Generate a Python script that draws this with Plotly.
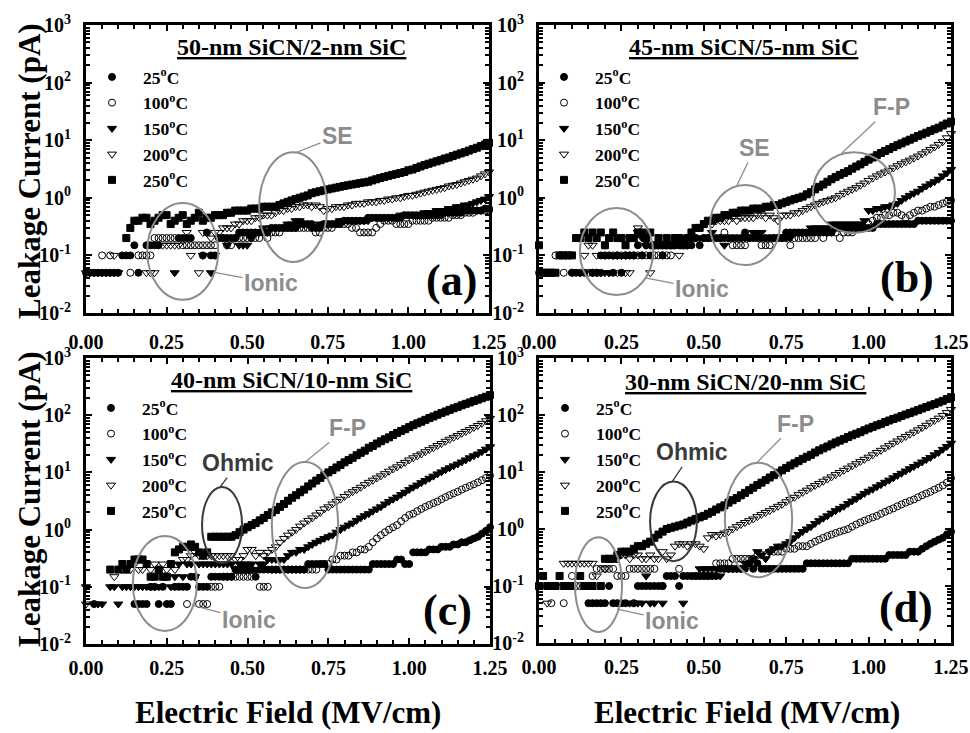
import plotly.graph_objects as go

N = None
# electric-field sweep (MV/cm), 0 to 1.25 in 0.0125 steps
FIELD = [round(0.0125 * i, 4) for i in range(101)]

TEMP_LABELS = ["25", "100", "150", "200", "250"]
PANEL_TITLES = ["50-nm SiCN/2-nm SiC", "45-nm SiCN/5-nm SiC",
                "40-nm SiCN/10-nm SiC", "30-nm SiCN/20-nm SiC"]
PANEL_TAGS = ["(a)", "(b)", "(c)", "(d)"]
X_TICKS = [0.0, 0.25, 0.5, 0.75, 1.0, 1.25]
X_TICK_TEXT = ["0.00", "0.25", "0.50", "0.75", "1.00", "1.25"]
Y_TICKS = [0.01, 0.1, 1, 10, 100, 1000]
Y_TICK_EXP = ["-2", "-1", "0", "1", "2", "3"]

# ---------------- (a) 50-nm SiCN / 2-nm SiC ----------------
A25 = [0.05,0.05,0.05,0.05,0.05,0.05,0.05,0.05,0.05,0.1,
       0.1,0.1,0.15,0.05,N,0.15,0.15,0.15,0.15,N,
       N,N,N,0.2,0.2,0.2,0.2,N,N,0.1,
       0.25,0.1,0.1,0.2,0.2,0.2,0.2,0.2,0.25,0.25,
       0.25,0.25,0.25,0.25,0.25,0.25,0.3,0.3,0.3,0.3,
       0.3,0.3,0.3,0.35,0.35,0.35,0.35,0.3,0.3,0.35,
       0.35,0.35,0.35,0.35,0.4,0.4,0.4,0.4,0.4,0.4,
       0.45,0.45,0.45,0.45,0.45,0.45,0.45,0.45,0.45,0.5,
       0.5,0.5,0.5,0.5,0.5,0.5,0.5,0.5,0.5,0.55,
       0.55,0.55,0.55,0.55,0.6,0.6,0.6,0.6,0.6,0.65,
       0.65]
A100 = [N,N,N,N,0.1,N,0.1,N,N,N,
        N,0.05,N,0.1,0.1,0.1,0.1,0.2,0.2,0.2,
        0.2,0.2,0.2,N,0.15,0.15,0.15,0.15,0.15,0.15,
        0.15,0.15,0.15,0.2,0.2,0.15,0.15,0.2,0.2,0.2,
        0.2,0.2,0.2,0.2,0.25,0.2,0.25,0.25,0.25,0.3,
        0.3,0.3,0.3,0.3,0.3,0.3,0.3,0.25,0.25,0.3,
        0.3,0.3,0.35,0.35,0.35,0.35,0.3,0.3,0.25,0.25,
        0.25,0.25,0.3,0.35,0.4,0.4,0.4,0.35,0.35,0.35,
        0.35,0.4,0.4,0.4,0.4,0.4,0.45,0.45,0.45,0.45,
        0.45,0.5,0.5,0.5,0.55,0.55,0.55,0.6,0.6,0.6,
        0.6]
A150 = [N,0.05,0.05,0.05,0.05,0.05,0.05,0.05,0.05,N,
        N,N,N,N,N,N,N,N,N,N,
        N,N,0.05,N,N,N,N,N,N,0.1,
        N,0.05,0.1,0.2,0.2,0.15,0.2,0.2,0.15,0.15,
        0.15,0.2,0.25,0.25,0.3,0.25,0.3,0.3,0.3,0.3,
        0.35,0.35,0.4,0.4,0.35,0.35,0.3,0.3,0.35,0.35,
        0.35,0.35,0.35,0.4,0.4,0.4,0.4,0.4,0.4,0.4,
        0.4,0.45,0.45,0.45,0.45,0.45,0.45,0.45,0.5,0.5,
        0.5,0.5,0.5,0.5,0.55,0.55,0.55,0.6,0.6,0.6,
        0.65,0.65,0.7,0.7,0.75,0.75,0.8,0.85,0.9,0.95,
        1.05]
A200 = [0.05,N,N,N,N,N,N,0.1,N,N,
        N,N,N,N,N,0.05,0.05,0.05,N,0.15,
        0.15,0.15,0.15,0.15,N,0.25,0.1,N,0.05,0.25,
        N,0.2,0.25,0.25,0.3,0.3,0.3,0.35,0.35,0.4,
        0.4,0.4,0.45,0.45,0.5,0.5,0.5,0.55,0.6,0.6,
        0.65,0.65,0.7,0.7,0.75,0.75,0.7,0.75,0.7,0.6,
        0.65,0.65,0.7,0.7,0.7,0.75,0.75,0.8,0.8,0.8,
        0.85,0.85,0.85,0.9,0.9,0.95,0.95,1.0,1.0,1.05,
        1.1,1.1,1.15,1.2,1.25,1.3,1.35,1.4,1.45,1.5,
        1.6,1.65,1.7,1.8,1.9,2.0,2.1,2.2,2.4,2.6,
        2.8]
A250 = [N,N,N,N,N,N,N,N,N,N,
        0.2,0.3,0.4,0.4,0.45,0.45,0.35,0.4,0.45,0.5,
        0.5,0.35,0.4,0.45,0.5,0.35,0.4,0.45,0.55,0.4,
        0.45,0.45,0.5,0.5,0.5,0.55,0.55,0.6,0.6,0.6,
        0.6,0.65,0.65,0.65,0.7,0.7,0.7,0.7,0.75,0.8,
        0.85,0.9,0.95,1.0,1.05,1.1,1.2,1.25,1.3,1.35,
        1.4,1.45,1.5,1.55,1.6,1.65,1.7,1.75,1.8,1.85,
        1.9,2.0,2.1,2.2,2.3,2.4,2.5,2.6,2.7,2.8,
        3.0,3.1,3.3,3.5,3.7,3.9,4.1,4.3,4.5,4.8,
        5.0,5.3,5.6,5.9,6.2,6.6,7.0,7.4,7.9,8.4,
        9.0]

# ---------------- (b) 45-nm SiCN / 5-nm SiC ----------------
B25 = [N,N,N,N,N,N,N,N,0.05,0.05,
       N,0.05,N,0.05,0.05,0.1,0.1,0.1,0.05,0.1,
       0.05,0.1,0.1,0.1,0.15,0.1,0.15,0.1,0.15,0.15,
       0.1,0.15,0.15,0.15,0.15,0.15,0.15,0.15,0.2,0.15,
       0.2,0.2,0.2,0.2,0.2,0.2,0.2,0.2,0.2,0.2,
       0.25,0.2,0.2,0.2,0.2,0.2,0.2,0.2,0.2,0.2,
       0.25,0.25,0.25,0.25,0.25,0.25,0.25,0.25,0.25,0.25,
       0.25,0.25,0.3,0.3,0.3,0.3,0.3,0.3,0.3,0.3,
       0.3,0.3,0.35,0.35,0.35,0.35,0.35,0.35,0.35,0.35,
       0.35,0.35,0.4,0.4,0.4,0.4,0.4,0.4,0.4,0.4,
       0.4]
B100 = [0.05,0.05,0.05,0.05,0.1,0.1,0.05,N,0.05,N,
        0.05,N,0.05,0.05,0.05,0.05,0.15,N,0.1,0.1,
        0.1,0.1,0.1,0.1,0.1,0.1,0.1,N,0.1,0.1,
        0.1,0.1,0.1,N,0.15,0.15,N,0.2,0.2,N,
        0.2,0.2,0.2,N,0.2,0.25,N,0.15,0.15,0.15,
        0.15,0.2,N,0.2,0.15,0.15,0.15,0.2,0.2,0.2,
        0.2,0.15,0.2,0.2,0.2,0.2,0.2,0.2,0.25,0.2,
        0.25,0.25,0.25,0.2,0.25,0.25,0.25,0.3,0.3,0.3,
        0.35,0.4,0.45,0.45,0.5,0.5,0.55,0.55,0.5,0.45,
        0.5,0.55,0.6,0.6,0.65,0.7,0.7,0.75,0.8,0.85,
        0.9]
B150 = [N,N,N,N,N,N,N,N,N,N,
        0.05,N,N,0.05,0.05,0.05,0.05,0.05,0.1,0.1,
        0.1,0.1,0.2,0.2,0.25,0.2,0.15,0.15,0.15,0.15,
        0.15,0.15,0.15,0.15,0.2,0.2,0.15,0.2,0.2,0.2,
        0.2,0.2,0.25,0.2,0.2,0.15,0.2,0.2,0.2,0.2,
        0.2,0.2,0.25,0.25,0.25,0.2,0.2,0.2,0.2,0.2,
        0.2,0.2,0.25,0.25,0.25,0.25,0.3,0.3,0.3,0.3,
        0.3,0.35,0.35,0.35,0.35,0.35,0.35,0.35,0.35,0.4,
        0.6,0.6,0.65,0.65,0.7,0.7,0.75,0.8,0.9,1.0,
        1.1,1.2,1.3,1.45,1.6,1.75,1.9,2.1,2.4,2.7,
        3.1]
B200 = [N,N,N,N,N,N,N,N,N,N,
        0.05,0.1,0.15,0.15,0.1,0.05,0.1,0.05,0.1,0.05,
        0.1,0.05,0.05,0.1,0.3,N,N,0.05,N,N,
        0.2,N,N,N,0.1,N,N,N,N,N,
        N,N,0.35,0.4,0.4,0.4,0.4,0.45,0.4,0.45,
        0.45,0.45,0.45,0.5,0.5,0.45,0.5,0.45,0.4,0.5,
        0.5,0.5,0.55,0.55,0.6,0.65,0.7,0.75,0.8,0.85,
        0.9,0.95,1.0,1.1,1.2,1.3,1.4,1.5,1.65,1.8,
        2.0,2.2,2.4,2.6,2.8,3.0,3.3,3.6,3.9,4.2,
        4.5,4.9,5.3,5.8,6.3,6.9,7.6,8.4,9.4,11.0,
        13.0]
B250 = [0.15,0.05,0.05,0.05,0.05,0.1,0.1,0.1,0.1,0.2,
        0.2,0.25,0.2,0.25,0.2,0.25,0.15,0.2,0.25,0.2,
        0.2,0.15,0.2,0.2,0.25,0.25,0.2,0.25,0.15,0.2,
        0.15,0.2,0.15,0.2,0.2,0.15,0.2,0.25,0.3,0.3,
        0.35,0.4,0.4,0.45,0.45,0.5,0.5,0.55,0.55,0.6,
        0.6,0.6,0.65,0.65,0.65,0.7,0.7,0.75,0.75,0.8,
        0.85,0.9,0.95,1.0,1.05,1.15,1.25,1.4,1.55,1.7,
        1.9,2.1,2.3,2.5,2.7,2.9,3.2,3.5,3.8,4.2,
        4.6,5.0,5.5,6.0,6.5,7.0,7.6,8.2,8.8,9.5,
        10.2,11.0,11.8,12.6,13.5,14.5,15.5,16.5,18.0,19.5,
        21.0]

# ---------------- (c) 40-nm SiCN / 10-nm SiC ----------------
C25 = [N,N,0.05,N,N,N,N,N,N,N,
       N,N,0.05,0.05,0.05,0.05,0.1,0.1,0.05,0.1,
       0.05,0.05,0.1,0.1,0.1,0.1,0.15,0.15,0.1,0.1,
       0.1,0.15,0.15,0.15,0.15,0.15,0.15,0.2,0.2,0.2,
       0.2,0.2,0.15,0.2,0.2,0.2,0.2,0.2,0.2,0.2,
       0.2,0.2,0.2,0.2,0.2,0.25,0.25,0.25,0.25,0.25,
       0.2,0.2,0.2,0.2,0.2,0.2,0.2,0.2,0.2,0.2,
       0.2,0.25,0.25,0.25,0.25,0.25,0.25,0.3,0.3,0.25,
       0.25,0.4,0.4,0.4,0.4,0.45,0.45,0.45,0.5,0.5,
       0.5,0.55,0.55,0.6,0.6,0.65,0.7,0.75,0.85,0.95,
       1.1]
C100 = [N,N,N,N,N,N,N,N,N,N,
        N,N,N,N,N,N,N,N,N,N,
        N,N,N,N,N,0.05,N,N,0.05,0.05,
        0.05,0.1,0.1,0.1,0.15,0.15,0.15,0.15,0.15,0.15,
        0.15,0.15,N,0.1,0.1,0.1,0.2,0.2,0.2,0.2,
        0.2,0.2,0.2,0.2,0.2,0.2,0.2,0.2,0.25,0.25,
        0.25,0.3,0.3,0.35,0.35,0.35,0.4,0.4,0.45,0.45,
        0.5,0.6,0.7,0.8,0.9,1.0,1.1,1.2,1.4,1.6,
        1.8,1.9,2.1,2.3,2.5,2.7,2.9,3.1,3.4,3.7,
        4.0,4.3,4.6,5.0,5.4,5.8,6.2,6.7,7.3,8.0,
        8.8]
C150 = [0.1,N,0.05,0.05,0.05,N,0.1,0.1,0.05,0.1,
        0.1,0.1,0.1,0.1,0.1,0.1,0.1,0.1,0.1,N,
        0.15,0.1,0.15,0.25,0.15,0.25,0.25,0.15,0.25,0.25,
        0.25,0.25,0.25,0.25,0.25,0.25,0.25,0.2,0.25,0.25,
        0.25,0.25,0.2,0.25,0.25,0.3,0.3,0.3,0.3,0.3,
        0.35,0.4,0.4,0.45,0.45,0.5,0.55,0.6,0.65,0.7,
        0.75,0.8,0.9,1.0,1.1,1.2,1.3,1.45,1.6,1.75,
        1.9,2.1,2.3,2.5,2.8,3.1,3.4,3.7,4.1,4.5,
        5.0,5.5,6.0,6.6,7.2,7.9,8.6,9.4,10.2,11.1,
        12.0,13.0,14.0,15.2,16.5,18.0,19.5,21.0,23.0,25.5,
        28.0]
C200 = [0.05,N,N,N,N,N,N,0.15,N,0.2,
        0.2,0.2,0.25,0.2,0.2,0.25,0.2,0.25,0.2,0.25,
        0.2,N,0.2,N,0.3,0.3,0.35,0.4,0.35,0.35,
        0.35,0.35,0.35,0.35,0.35,0.35,0.35,0.3,0.3,0.35,
        0.45,0.45,0.35,0.4,0.35,0.4,0.45,0.5,0.6,0.7,
        0.8,0.9,1.0,1.15,1.3,1.45,1.6,1.8,2.0,2.3,
        2.5,2.8,3.1,3.4,3.8,4.2,4.6,5.0,5.5,6.1,
        6.7,7.3,8.0,8.7,9.5,10.5,11.5,12.5,13.8,15.0,
        16.5,18.0,19.5,21.0,23.0,25.0,27.0,29.5,32.0,35.0,
        38.0,41.0,44.0,48.0,52.0,56.0,61.0,66.0,72.0,80.0,
        88.0]
C250 = [N,N,N,N,N,N,0.2,N,0.2,0.25,
        0.2,0.25,0.3,0.3,0.3,0.25,0.15,0.15,0.2,0.15,
        0.15,0.25,0.4,0.45,0.5,0.5,0.55,0.5,0.4,0.35,
        0.4,0.75,0.75,0.75,0.75,0.75,0.75,0.8,0.9,1.0,
        1.1,1.2,1.3,1.45,1.6,1.8,2.0,2.2,2.5,2.8,
        3.2,3.6,4.0,4.5,5.0,5.7,6.4,7.2,8.0,9.0,
        10.0,11.0,12.2,13.5,15.0,16.5,18.0,20.0,22.0,24.0,
        27.0,29.0,32.0,35.0,38.0,41.0,45.0,49.0,53.0,57.0,
        62.0,67.0,72.0,77.0,83.0,89.0,95.0,102.0,109.0,116.0,
        124.0,132.0,140.0,149.0,158.0,167.0,177.0,187.0,198.0,210.0,
        225.0]

# ---------------- (d) 30-nm SiCN / 20-nm SiC ----------------
D25 = [N,N,N,N,N,N,N,N,N,N,
       N,N,0.05,0.05,0.05,0.05,0.05,0.1,0.05,0.05,
       0.05,0.05,N,0.05,0.1,0.1,0.1,0.1,0.1,0.1,
       0.1,0.15,0.15,0.15,0.1,0.15,0.15,0.15,0.15,0.15,
       0.15,0.15,0.15,0.15,0.2,0.2,0.2,0.2,0.2,0.2,
       0.2,0.25,0.2,0.25,0.2,0.2,0.2,0.2,0.2,0.2,
       0.2,0.2,0.2,0.2,0.2,0.25,0.25,0.25,0.25,0.25,
       0.25,0.25,0.25,0.25,0.25,0.25,0.3,0.3,0.3,0.3,
       0.3,0.3,0.3,0.3,0.3,0.35,0.35,0.35,0.35,0.35,
       0.4,0.4,0.4,0.45,0.5,0.55,0.6,0.65,0.7,0.8,
       0.9]
D100 = [N,N,N,0.05,N,N,0.05,N,0.15,0.1,
        0.1,0.1,N,0.15,0.2,0.2,0.2,0.2,0.2,0.15,
        0.15,0.15,0.2,0.2,0.2,0.2,0.2,0.2,0.2,N,
        0.1,N,N,N,0.2,N,N,N,0.15,0.15,
        0.15,0.15,N,0.25,0.25,0.25,0.25,0.3,0.3,0.3,
        0.3,0.3,0.3,0.35,0.35,0.35,0.4,0.4,0.4,0.4,
        0.45,0.45,0.45,0.5,0.5,0.5,0.55,0.6,0.65,0.7,
        0.75,0.8,0.85,0.9,0.95,1.0,1.1,1.2,1.3,1.4,
        1.5,1.6,1.7,1.85,2.0,2.15,2.3,2.5,2.7,2.9,
        3.1,3.3,3.6,3.9,4.2,4.5,4.9,5.3,5.8,6.5,
        7.8]
D150 = [N,N,N,N,N,N,N,N,N,N,
        N,N,N,N,N,N,N,N,N,N,
        N,N,0.05,0.05,0.05,0.05,0.15,0.05,0.05,N,
        0.05,N,N,N,N,0.05,N,0.15,0.15,0.2,
        0.2,0.2,0.2,0.2,0.15,0.2,0.2,0.2,0.2,0.2,
        0.25,0.25,0.3,0.4,0.35,0.3,0.4,0.45,0.5,0.5,
        0.55,0.6,0.7,0.8,0.9,1.0,1.1,1.25,1.4,1.55,
        1.7,1.9,2.1,2.3,2.5,2.8,3.1,3.4,3.8,4.2,
        4.6,5.0,5.5,6.0,6.6,7.2,7.9,8.7,9.5,10.4,
        11.4,12.5,13.7,15.0,16.5,18.0,20.0,22.0,25.0,28.0,
        32.0]
D200 = [N,N,0.05,N,0.1,N,0.25,0.25,0.25,0.25,
        0.25,0.25,0.25,0.25,0.15,N,0.2,0.3,0.3,0.3,
        0.35,0.35,0.3,0.35,0.35,0.3,0.3,0.35,0.3,0.3,
        0.4,0.3,0.35,0.5,0.55,0.55,0.5,0.55,0.55,0.5,
        0.45,0.7,0.8,0.75,0.8,0.85,0.9,1.0,1.1,1.2,
        1.3,1.4,1.5,1.65,1.8,1.95,2.1,2.3,2.5,2.7,
        3.0,3.3,3.6,4.0,4.4,4.8,5.3,5.8,6.3,6.9,
        7.5,8.2,9.0,9.8,10.7,11.7,12.8,14.0,15.3,16.7,
        18.2,20.0,22.0,24.0,26.5,29.0,32.0,35.0,38.5,42.0,
        46.0,50.0,55.0,60.0,66.0,73.0,80.0,88.0,98.0,110.0,
        125.0]
D250 = [0.1,0.15,0.1,0.1,0.1,0.15,0.1,0.1,0.1,N,
        0.15,0.1,0.1,0.1,N,0.1,0.3,0.3,0.3,0.35,
        0.4,0.4,0.4,0.45,0.5,0.5,0.55,0.6,0.7,0.8,
        0.9,1.0,1.05,1.1,1.15,1.2,1.3,1.4,1.5,1.6,
        1.7,1.85,2.0,2.2,2.4,2.6,2.9,3.2,3.5,3.9,
        4.3,4.8,5.3,5.9,6.5,7.2,8.0,8.8,9.7,10.7,
        11.8,13.0,14.2,15.5,17.0,18.5,20.0,22.0,24.0,26.0,
        28.0,30.5,33.0,35.5,38.0,41.0,44.0,47.0,50.0,54.0,
        58.0,62.0,66.0,70.0,75.0,80.0,85.0,90.0,96.0,102.0,
        108.0,115.0,122.0,130.0,138.0,147.0,156.0,166.0,177.0,190.0,
        205.0]

SERIES = [[A25, A100, A150, A200, A250],
          [B25, B100, B150, B200, B250],
          [C25, C100, C150, C200, C250],
          [D25, D100, D150, D200, D250]]
for grp in SERIES:
    for s in grp:
        assert len(s) == len(FIELD), len(s)

# ----------------------------- styling -----------------------------
W, H = 970, 733
SERIF = "Liberation Serif"
SANS = "Liberation Sans"
GRAY = "#8c8c8c"
DARK = "#3a3a3a"
SYMBOLS = ["circle", "circle-open", "triangle-down", "triangle-down-open", "square"]
SIZES = [7, 7, 8, 8, 7]

def px(x):
    return x / W

def py(y):
    return 1 - y / H

# plot-area boxes in pixels (left, right, top, bottom)
BOXES = [(86, 489, 25, 313), (539, 951, 25, 313),
         (86, 490, 358, 644), (539, 951, 358, 643)]
LEGEND_POS = [(81, 59), (533, 59), (80, 390), (534, 390)]
XLABEL_STANDOFF = [9, 9, 4, 4]

# annotation ellipses: x range (MV/cm) and current range (pA)
ELLIPSES = [
    [(0.19, 0.41, 0.017, 0.81, GRAY), (0.537, 0.748, 0.077, 6.2, GRAY)],
    [(0.124, 0.346, 0.0205, 0.665, GRAY), (0.519, 0.731, 0.068, 1.67, GRAY),
     (0.831, 1.080, 0.245, 6.2, GRAY)],
    [(0.145, 0.343, 0.0169, 0.773, GRAY), (0.359, 0.483, 0.261, 5.56, DARK),
     (0.575, 0.780, 0.0953, 15.2, GRAY)],
    [(0.109, 0.252, 0.0156, 0.713, GRAY), (0.337, 0.479, 0.272, 6.79, DARK),
     (0.564, 0.768, 0.1426, 14.6, GRAY)],
]
# mechanism labels: text, leader tip (x, log10 pA), text centre (x, log10 pA)
LABELS = [
    [("Ionic", 0.394, -1.29, 0.574, -1.48, GRAY), ("SE", 0.648, 0.778, 0.78, 1.073, GRAY)],
    [("Ionic", 0.322, -1.392, 0.495, -1.583, GRAY), ("SE", 0.601, 0.222, 0.655, 0.865, GRAY),
     ("F-P", 0.919, 0.778, 1.068, 1.576, GRAY)],
    [("Ionic", 0.328, -1.32, 0.504, -1.58, GRAY), ("Ohmic", 0.415, 0.745, 0.47, 1.164, DARK),
     ("F-P", 0.678, 1.182, 0.808, 1.776, GRAY)],
    [("Ionic", 0.237, -1.406, 0.404, -1.615, GRAY), ("Ohmic", 0.404, 0.832, 0.464, 1.343, DARK),
     ("F-P", 0.661, 1.164, 0.777, 1.846, GRAY)],
]
TAG_POS = [(1.135, -1.44), (1.117, -1.375), (1.12, -1.42), (1.113, -1.38)]
TITLE_POS = [(291, 47), (743, 47), (291, 380), (745, 382)]

fig = go.Figure()
layout = dict(width=W, height=H, margin=dict(l=0, r=0, t=0, b=0, autoexpand=False),
              paper_bgcolor="white", plot_bgcolor="white", showlegend=True)
shapes, annotations = [], []

for k in range(4):
    sfx = "" if k == 0 else str(k + 1)
    xa, ya = "x" + sfx, "y" + sfx
    lg = "legend" + sfx
    l, r, t, b = BOXES[k]
    for j, vals in enumerate(SERIES[k]):
        fig.add_trace(go.Scatter(
            x=FIELD, y=vals, mode="markers", xaxis=xa, yaxis=ya, legend=lg,
            name="<b>%s<sup>o</sup>C</b>" % TEMP_LABELS[j], cliponaxis=False,
            marker=dict(symbol=SYMBOLS[j], size=SIZES[j], color="black",
                        line=dict(color="black", width=1))))
    layout["xaxis" + sfx] = dict(
        domain=[px(l), px(r)], anchor=ya, range=[0, 1.25], automargin=False,
        tickmode="array", tickvals=X_TICKS,
        ticktext=["<b>%s</b>" % s for s in X_TICK_TEXT],
        ticks="inside", ticklen=6, tickwidth=2, tickcolor="black",
        showline=True, linewidth=3, linecolor="black", mirror="allticks",
        showgrid=False, zeroline=False,
        minor=dict(ticks="inside", tickmode="linear", tick0=0, dtick=0.05,
                   ticklen=4, tickwidth=1.5, tickcolor="black", showgrid=False),
        tickfont=dict(family=SERIF, size=20, color="black"),
        ticklabelstandoff=XLABEL_STANDOFF[k])
    layout["yaxis" + sfx] = dict(
        domain=[py(b), py(t)], anchor=xa, type="log", range=[-2, 3], automargin=False,
        tickmode="array", tickvals=Y_TICKS,
        ticktext=["<b>10<sup>%s</sup></b>" % e for e in Y_TICK_EXP],
        ticks="inside", ticklen=6, tickwidth=2, tickcolor="black",
        showline=True, linewidth=3, linecolor="black", mirror="allticks",
        showgrid=False, zeroline=False,
        minor=dict(ticks="inside", tickmode="array",
                   tickvals=[m * 10 ** e for e in range(-2, 3) for m in range(2, 10)],
                   ticklen=4, tickwidth=1.5, tickcolor="black", showgrid=False),
        tickfont=dict(family=SERIF, size=20, color="black"),
        ticklabelstandoff=8)
    lx, ly = LEGEND_POS[k]
    layout[lg] = dict(x=px(lx), y=py(ly), xanchor="left", yanchor="top",
                      bgcolor="rgba(0,0,0,0)", borderwidth=0, itemwidth=52,
                      font=dict(family=SERIF, size=17.5, color="black"),
                      tracegroupgap=0, itemclick=False)
    for (x0, x1, y0, y1, col) in ELLIPSES[k]:
        shapes.append(dict(type="circle", xref=xa, yref=ya, x0=x0, x1=x1, y0=y0, y1=y1,
                           line=dict(color=col, width=2)))
    for (txt, tx, ty, ax_, ay_, col) in LABELS[k]:
        annotations.append(dict(
            text="<b>%s</b>" % txt, xref=xa, yref=ya, x=tx, y=ty,
            axref=xa, ayref=ya, ax=ax_, ay=ay_, showarrow=True, arrowhead=0,
            arrowwidth=1.3, arrowcolor=col,
            font=dict(family=SANS, size=23, color=col)))
    gx, gy = TAG_POS[k]
    annotations.append(dict(text="<b>%s</b>" % PANEL_TAGS[k], xref=xa, yref=ya,
                            x=gx, y=gy, showarrow=False, xanchor="center", yanchor="middle",
                            font=dict(family=SERIF, size=44, color="black")))
    tx, ty = TITLE_POS[k]
    annotations.append(dict(text="<b><u>%s</u></b>" % PANEL_TITLES[k], xref="paper",
                            yref="paper", x=px(tx), y=py(ty), showarrow=False,
                            xanchor="center", yanchor="middle",
                            font=dict(family=SERIF, size=24, color="black")))

for (cx, cy) in [(29, 171), (29, 499)]:
    annotations.append(dict(text="<b>Leakage Current (pA)</b>", xref="paper", yref="paper",
                            x=px(cx), y=py(cy), showarrow=False, textangle=-90,
                            xanchor="center", yanchor="middle",
                            font=dict(family=SERIF, size=31, color="black")))
for (cx, cy) in [(288, 712), (747, 712)]:
    annotations.append(dict(text="<b>Electric Field (MV/cm)</b>", xref="paper", yref="paper",
                            x=px(cx), y=py(cy), showarrow=False,
                            xanchor="center", yanchor="middle",
                            font=dict(family=SERIF, size=31, color="black")))

layout["shapes"] = shapes
layout["annotations"] = annotations
fig.update_layout(**layout)
fig.write_html("out.html")
